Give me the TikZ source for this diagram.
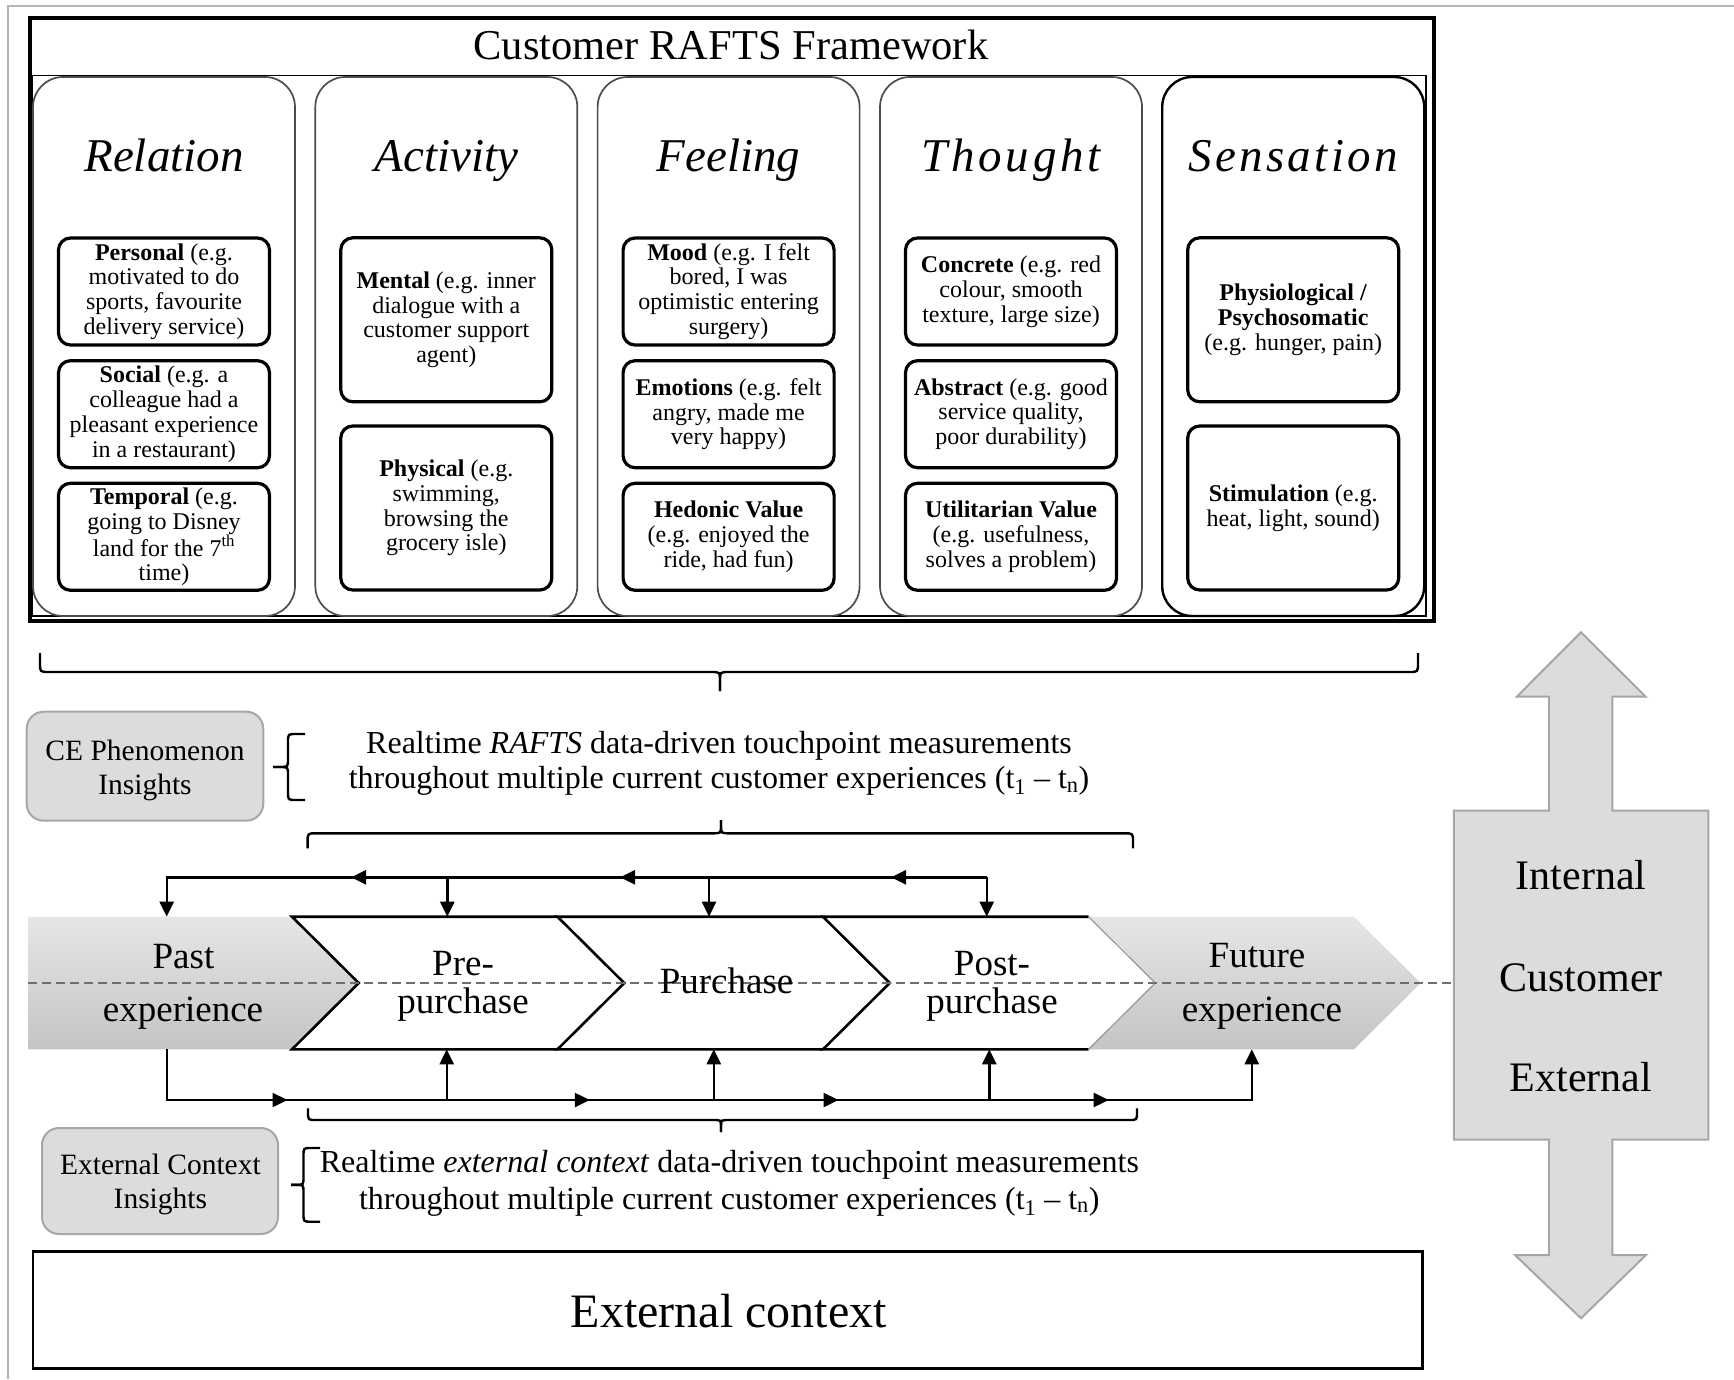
\documentclass[tikz,border=0pt]{standalone}
\usepackage{fontspec}
\setmainfont{Liberation Serif}
\usetikzlibrary{arrows.meta,calc}

\definecolor{shadeA}{HTML}{E6E6E6}
\definecolor{shadeB}{HTML}{C4C4C4}
\definecolor{panelgray}{HTML}{DCDCDC}
\definecolor{edgegray}{HTML}{A6A6A6}
\definecolor{framegray}{HTML}{B4B4B4}
\definecolor{dashgray}{HTML}{6E6E6E}

\newcommand{\setfs}[2]{\fontsize{#1}{#2}\selectfont}

\tikzset{
  column/.style={draw=black!70, line width=1.7pt, rounded corners=30pt,
    minimum width=262pt, minimum height=539pt, inner sep=0pt},
  catbox/.style={draw=black, line width=3.2pt, rounded corners=12pt,
    minimum width=211pt, inner sep=0pt, align=center, font=\setfs{24}{24.8}},
  heading/.style={anchor=base, inner sep=0pt, font=\setfs{47}{50}\itshape},
  txt/.style={anchor=base, inner sep=0pt},
  midtext/.style={txt, font=\setfs{32}{36}},
  insighttext/.style={txt, font=\setfs{29.5}{34}},
  stagetext/.style={txt, font=\setfs{37}{40}},
  sidetext/.style={txt, font=\setfs{42}{46}},
  insight/.style={draw=edgegray, fill=panelgray, line width=2pt,
    rounded corners=17pt, inner sep=0pt},
  stagefill/.style={fill=white},
  stageedge/.style={draw=black, line width=2.6pt, line join=miter},
  greystage/.style={top color=shadeA, bottom color=shadeB},
  conn/.style={line width=2.4pt},
  tip/.style={-{Triangle[length=15pt,width=14pt]}},
  bracket/.style={line width=2.4pt},
  bigarrow/.style={fill=panelgray, draw=edgegray, line width=2pt, line join=miter},
}

\begin{document}
\begin{tikzpicture}[x=1pt,y=-1pt]
\useasboundingbox (0,0) rectangle (1734,1379);

% page frame
\draw[framegray, line width=2pt] (7.5,1379) -- (7.5,6) -- (1734,6);

% ---------- framework panel ----------
\draw[line width=3.6pt] (30,18) rectangle (1434,621);
\draw[line width=1.4pt] (32.5,75.5) rectangle (1426,616);
\node[txt, font=\setfs{42.5}{46}] (title) at (731,59) {Customer RAFTS Framework};

\node[column] (relcol) at (164,346.5) {};
\node[column] (actcol) at (446.3,346.5) {};
\node[column] (feecol) at (728.6,346.5) {};
\node[column] (thocol) at (1011,346.5) {};
\node[column, draw=black, line width=2.4pt] (sencol) at (1293.2,346.5) {};

\node[heading] (relhead) at (164,171.5) {Relation};
\node[heading] (acthead) at (446.3,171.5) {Activity};
\node[heading] (feehead) at (728.6,171.5) {Feeling};
\node[heading] (thohead) at (1011,171.5) {\addfontfeatures{LetterSpace=8}Thought};
\node[heading] (senhead) at (1293.2,171.5) {\addfontfeatures{LetterSpace=7}Sensation};

% Relation
\node[catbox, minimum height=107pt] (personal) at (164,291.5)
  {\textbf{Personal} (e.g.\\motivated to do\\sports, favourite\\delivery service)};
\node[catbox, minimum height=107pt] (social) at (164,414.2)
  {\textbf{Social} (e.g. a\\colleague had a\\pleasant experience\\in a restaurant)};
\node[catbox, minimum height=107pt] (temporal) at (164,536.8)
  {\textbf{Temporal} (e.g.\\going to Disney\\land for the 7\textsuperscript{th}\\time)};
% Activity
\node[catbox, minimum height=164pt] (mental) at (446.3,319.8)
  {\textbf{Mental} (e.g. inner\\dialogue with a\\customer support\\agent)};
\node[catbox, minimum height=164pt] (physical) at (446.3,508)
  {\textbf{Physical} (e.g.\\swimming,\\browsing the\\grocery isle)};
% Feeling
\node[catbox, minimum height=107pt] (mood) at (728.6,291.5)
  {\textbf{Mood} (e.g. I felt\\bored, I was\\optimistic entering\\surgery)};
\node[catbox, minimum height=107pt] (emotions) at (728.6,414.2)
  {\textbf{Emotions} (e.g. felt\\angry, made me\\very happy)};
\node[catbox, minimum height=107pt] (hedonic) at (728.6,536.8)
  {\textbf{Hedonic Value}\\(e.g. enjoyed the\\ride, had fun)};
% Thought
\node[catbox, minimum height=107pt] (concrete) at (1011,291.5)
  {\textbf{Concrete} (e.g. red\\colour, smooth\\texture, large size)};
\node[catbox, minimum height=107pt] (abstract) at (1011,414.2)
  {\textbf{Abstract} (e.g. good\\service quality,\\poor durability)};
\node[catbox, minimum height=107pt] (utilitarian) at (1011,536.8)
  {\textbf{Utilitarian Value}\\(e.g. usefulness,\\solves a problem)};
% Sensation
\node[catbox, minimum height=164pt] (physio) at (1293.2,319.8)
  {\textbf{Physiological /}\\\textbf{Psychosomatic}\\(e.g. hunger, pain)};
\node[catbox, minimum height=164pt] (stimulation) at (1293.2,508)
  {\textbf{Stimulation} (e.g.\\heat, light, sound)};

% ---------- brace under the framework ----------
\coordinate (bA1) at (40,653);
\coordinate (bA2) at (1418,653);
\coordinate (bAtip) at (720,691);
\draw[bracket] (bA1) -- (40,663) .. controls (40,672) .. (49,672) -- (711,672)
  .. controls (720,672) .. (720,681) -- (bAtip);
\draw[bracket] (bAtip) -- (720,681) .. controls (720,672) .. (729,672) -- (1409,672)
  .. controls (1418,672) .. (1418,663) -- (bA2);

% ---------- CE phenomenon insights ----------
\node[insight, minimum width=236.6pt, minimum height=109pt] (cebox) at (145,766.2) {};
\node[insighttext] (ce1) at (145,760) {CE Phenomenon};
\node[insighttext] (ce2) at (145,794) {Insights};

\coordinate (bBtop) at (305,734);
\coordinate (bBbot) at (305,800);
\coordinate (bBtip) at (273,767);
\draw[bracket] (bBtop) -- (296,734) .. controls (288,734) .. (288,742) -- (288,759)
  .. controls (288,767) .. (280,767) -- (bBtip);
\draw[bracket] (bBtip) -- (280,767) .. controls (288,767) .. (288,775) -- (288,792)
  .. controls (288,800) .. (296,800) -- (bBbot);

\node[midtext] (rt1) at (719,753) {Realtime \textit{RAFTS} data-driven touchpoint measurements};
\node[midtext] (rt2) at (719,788.5) {throughout multiple current customer experiences (t\textsubscript{1} -- t\textsubscript{n})};

% brace above the journey
\coordinate (bC1) at (307.6,848.3);
\coordinate (bC2) at (1133,848.3);
\coordinate (bCtip) at (721,820);
\draw[bracket] (bC1) -- (307.6,842) .. controls (307.6,833.3) .. (316,833.3) -- (712,833.3)
  .. controls (721,833.3) .. (721,826) -- (bCtip);
\draw[bracket] (bCtip) -- (721,826) .. controls (721,833.3) .. (730,833.3) -- (1124,833.3)
  .. controls (1133,833.3) .. (1133,842) -- (bC2);

% ---------- customer journey ----------
\path[greystage] (28.3,916.7) -- (292,916.7) -- (358.7,983) -- (292,1049.3) -- (28.3,1049.3) -- cycle;

\path[stagefill] (292,916.7) -- (557.5,916.7) -- (624.2,983) -- (557.5,1049.3) -- (292,1049.3) -- (358.7,983) -- cycle;
\path[stagefill] (557.5,916.7) -- (823,916.7) -- (889.7,983) -- (823,1049.3) -- (557.5,1049.3) -- (624.2,983) -- cycle;
\path[stagefill] (823,916.7) -- (1088.5,916.7) -- (1155.2,983) -- (1088.5,1049.3) -- (823,1049.3) -- (889.7,983) -- cycle;

\draw[stageedge] (557.5,916.7) -- (292,916.7) -- (358.7,983) -- (292,1049.3) -- (557.5,1049.3);
\draw[stageedge] (823,916.7) -- (557.5,916.7) -- (624.2,983) -- (557.5,1049.3) -- (823,1049.3);
\draw[stageedge] (1088.5,916.7) -- (823,916.7) -- (889.7,983) -- (823,1049.3) -- (1088.5,1049.3);

\path[greystage] (1088.5,916.7) -- (1354,916.7) -- (1420.7,983) -- (1354,1049.3) -- (1088.5,1049.3) -- (1155.2,983) -- cycle;
\draw[black!45, line width=1pt] (1088.5,916.7) -- (1155.2,983) -- (1088.5,1049.3);

\coordinate (dashL) at (28.3,983);
\coordinate (dashR) at (1454,983);
\draw[dashgray, line width=1.6pt, dash pattern=on 9pt off 5pt] (dashL) -- (dashR);

\node[stagetext] (past1) at (183.5,968) {Past};
\node[stagetext] (past2) at (183,1021) {experience};
\node[stagetext] (pre1) at (463,975) {Pre-};
\node[stagetext] (pre2) at (463,1013) {purchase};
\node[stagetext] (pur) at (726.6,993) {Purchase};
\node[stagetext] (post1) at (992,975) {Post-};
\node[stagetext] (post2) at (992,1013) {purchase};
\node[stagetext] (fut1) at (1257,967) {Future};
\node[stagetext] (fut2) at (1262,1021) {experience};

% feedback arrows above the journey
\coordinate (pastIn) at (166.7,916.7);
\coordinate (preIn) at (447.3,916.7);
\coordinate (purIn) at (709,916.7);
\coordinate (postIn) at (986.7,916.7);
\coordinate (tPre) at (447.3,877.3);
\coordinate (tPur) at (709,877.3);
\coordinate (tPost) at (986.7,877.3);
\coordinate (hA) at (351,877.3);
\coordinate (hB) at (620,877.3);
\coordinate (hC) at (891,877.3);
\draw[conn, tip] (tPost) -| (pastIn);
\draw[conn, tip] (tPre) -- (preIn);
\draw[conn, tip] (tPur) -- (purIn);
\draw[conn, tip] (tPost) -- (postIn);
\foreach \h in {hA,hB,hC} \draw[conn, tip] ($(\h)+(13,0)$) -- (\h);

% measurement arrows below the journey
\coordinate (pastOut) at (166.7,1049.3);
\coordinate (bEnd) at (1251.8,1100);
\coordinate (futIn) at (1251.8,1049.3);
\coordinate (bPre) at (446.7,1100);
\coordinate (bPur) at (713.8,1100);
\coordinate (bPost) at (989.3,1100);
\coordinate (preOut) at (446.7,1049.3);
\coordinate (purOut) at (713.8,1049.3);
\coordinate (postOut) at (989.3,1049.3);
\coordinate (hD) at (287.5,1100);
\coordinate (hE) at (589.8,1100);
\coordinate (hF) at (838.5,1100);
\coordinate (hG) at (1108.7,1100);
\draw[conn, tip] (pastOut) |- (bEnd) -- (futIn);
\draw[conn, tip] (bPre) -- (preOut);
\draw[conn, tip] (bPur) -- (purOut);
\draw[conn, tip] (bPost) -- (postOut);
\foreach \h in {hD,hE,hF,hG} \draw[conn, tip] ($(\h)+(-13,0)$) -- (\h);

% brace below the journey
\coordinate (bD1) at (308,1108.3);
\coordinate (bD2) at (1137,1108.3);
\coordinate (bDtip) at (721,1132);
\draw[bracket] (bD1) -- (308,1112) .. controls (308,1120) .. (316,1120) -- (713,1120)
  .. controls (721,1120) .. (721,1126) -- (bDtip);
\draw[bracket] (bDtip) -- (721,1126) .. controls (721,1120) .. (729,1120) -- (1129,1120)
  .. controls (1137,1120) .. (1137,1112) -- (bD2);

% ---------- external context insights ----------
\node[insight, minimum width=236pt, minimum height=106pt] (extbox) at (160,1181) {};
\node[insighttext] (ex1) at (160.4,1174.5) {External Context};
\node[insighttext] (ex2) at (160.4,1208.7) {Insights};

\coordinate (bEtop) at (320,1148);
\coordinate (bEbot) at (320,1221.7);
\coordinate (bEtip) at (291,1184.8);
\draw[bracket] (bEtop) -- (311,1148) .. controls (303.5,1148) .. (303.5,1156) -- (303.5,1177)
  .. controls (303.5,1184.8) .. (296,1184.8) -- (bEtip);
\draw[bracket] (bEtip) -- (296,1184.8) .. controls (303.5,1184.8) .. (303.5,1192.6) -- (303.5,1213.7)
  .. controls (303.5,1221.7) .. (311,1221.7) -- (bEbot);

\node[midtext] (et1) at (729.4,1172.5) {Realtime \textit{external context} data-driven touchpoint measurements};
\node[midtext] (et2) at (729.3,1209) {throughout multiple current customer experiences (t\textsubscript{1} -- t\textsubscript{n})};

% ---------- external context bar ----------
\node[draw, line width=2.6pt, minimum width=1389.7pt, minimum height=116.6pt, inner sep=0pt] (ctxbar) at (727.9,1310) {};
\node[txt, font=\setfs{48}{52}] (ctxlabel) at (728.8,1327) {External context};

% ---------- internal / external double arrow ----------
\path[bigarrow] (1581,632.3) -- (1645.7,696.7) -- (1612.3,696.7) -- (1612.3,810.7)
  -- (1708.3,810.7) -- (1708.3,1139.5) -- (1612.3,1139.5) -- (1612.3,1255)
  -- (1646,1255) -- (1581,1318.3) -- (1515,1255) -- (1549,1255) -- (1549,1139.5)
  -- (1453.8,1139.5) -- (1453.8,810.7) -- (1549,810.7) -- (1549,696.7)
  -- (1516.7,696.7) -- cycle;
\node[sidetext] (sInt) at (1581,889) {Internal};
\node[sidetext] (sCus) at (1581,991) {Customer};
\node[sidetext] (sExt) at (1581,1091.5) {External};

\end{tikzpicture}
\end{document}
